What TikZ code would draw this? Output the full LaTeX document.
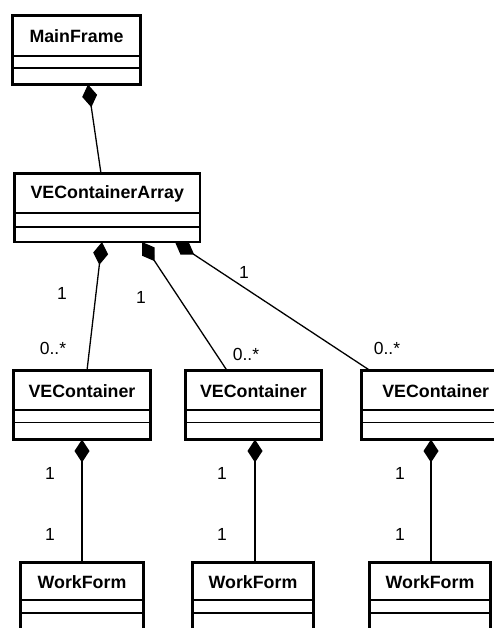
\documentclass[tikz,border=0pt]{standalone}
\usepackage{fontspec}
\setmainfont{Liberation Sans}
\usetikzlibrary{arrows.meta,calc}

\tikzset{
  clsbox/.style={draw, line width=2.6pt, inner sep=0pt, outer sep=0pt, fill=white},
  clsname/.style={font=\fontsize{17.8}{18}\selectfont\bfseries, inner sep=0pt},
  divider/.style={line width=1.4pt},
  comp/.style={line width=1.3pt, {Diamond[length=23pt,width=15pt]}-},
  mult/.style={font=\fontsize{17.5}{18}\selectfont, inner sep=0pt},
}

% name, left, top, right, bottom, first divider, second divider, title
\newcommand\umlclass[8]{%
  \node[clsbox, anchor=north west,
        minimum width={(#4)-(#2)}, minimum height={(#5)-(#3)}] (#1) at (#2,#3) {};
  \node[clsname] (#1t) at ({((#2)+(#4))/2},{((#3)+(#6))/2+0.5}) {#8};
  \draw[divider] (#2,#6) -- (#4,#6);
  \draw[divider] (#2,#7) -- (#4,#7);
}

\begin{document}
\begin{tikzpicture}[x=1pt,y=-1pt]
\useasboundingbox[fill=white] (0,0) rectangle (494,628);

\umlclass{mf}{12.5}{15.5}{140.5}{84.5}{56}{68}{MainFrame}
\umlclass{vca}{14.5}{173.5}{200}{242}{213}{227}{VEContainerArray}

\umlclass{vcA}{13.5}{370.5}{150.5}{439.5}{410}{422.5}{VEContainer}
\umlclass{vcB}{185.5}{370.5}{321.5}{439.5}{410}{422.5}{VEContainer}
\umlclass{vcC}{361.5}{370.5}{510}{439.5}{410}{422.5}{VEContainer}

\umlclass{wfA}{20.5}{562.5}{143.5}{650}{600}{613}{WorkForm}
\umlclass{wfB}{192.5}{562.5}{313.5}{650}{600}{613}{WorkForm}
\umlclass{wfC}{369.5}{562.5}{490.5}{650}{600}{613}{WorkForm}

% compositions
\draw[comp] ([xshift=75.5pt]mf.south west) -- ([xshift=86.5pt]vca.north west);
\draw[comp] ([xshift=87.5pt]vca.south west) -- ([xshift=73.5pt]vcA.north west);
\draw[comp] ([xshift=127.5pt]vca.south west) -- ([xshift=41.5pt]vcB.north west);
\draw[comp] ([xshift=160.5pt]vca.south west) -- ([xshift=8.5pt]vcC.north west);

\draw[comp] ([xshift=68.5pt]vcA.south west) -- ([xshift=61.5pt]wfA.north west);
\draw[comp] ([xshift=69.5pt]vcB.south west) -- ([xshift=62.5pt]wfB.north west);
\draw[comp] ([xshift=69.5pt]vcC.south west) -- ([xshift=61.5pt]wfC.north west);

% multiplicities
\node[mult] (m1) at (62,293) {1};
\node[mult] (m2) at (53,348) {0..*};
\node[mult] (m3) at (141,297) {1};
\node[mult] (m4) at (246,354) {0..*};
\node[mult] (m5) at (244,272) {1};
\node[mult] (m6) at (387,348) {0..*};

\node[mult] (m7) at (50,473) {1};
\node[mult] (m8) at (50,534) {1};
\node[mult] (m9) at (222,473) {1};
\node[mult] (m10) at (222,534) {1};
\node[mult] (m11) at (400,473) {1};
\node[mult] (m12) at (400,534) {1};
\end{tikzpicture}
\end{document}
